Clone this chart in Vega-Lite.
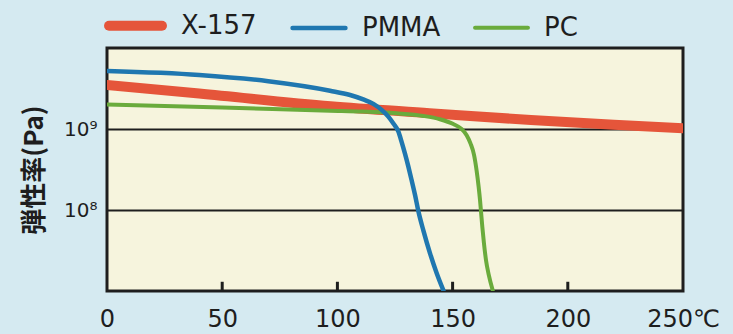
{
  "$schema": "https://vega.github.io/schema/vega-lite/v6.json",
  "width": 576,
  "height": 243,
  "autosize": "none",
  "padding": {"left": 107, "top": 48, "right": 50, "bottom": 43},
  "background": "#d5eaf1",
  "config": {
    "view": {"fill": "#f6f4dd", "stroke": "#1e1e1e", "strokeWidth": 3},
    "axis": {"labelFont": "DejaVu Sans", "labelColor": "#1e1e1e"}
  },
  "datasets": {
    "xticks": [{"T": 50}, {"T": 100}, {"T": 150}, {"T": 200}],
    "curves": [
      {"series": "X-157", "T": 0, "E": 3.49e9},
      {"series": "X-157", "T": 40, "E": 2.75e9},
      {"series": "X-157", "T": 97, "E": 1.91e9},
      {"series": "X-157", "T": 140, "E": 1.57e9},
      {"series": "X-157", "T": 184, "E": 1.29e9},
      {"series": "X-157", "T": 220, "E": 1.13e9},
      {"series": "X-157", "T": 250, "E": 1.02e9},
      {"series": "PC", "T": 0, "E": 2.0e9},
      {"series": "PC", "T": 50, "E": 1.84e9},
      {"series": "PC", "T": 96.8, "E": 1.68e9},
      {"series": "PC", "T": 111.2, "E": 1.64e9},
      {"series": "PC", "T": 125.7, "E": 1.56e9},
      {"series": "PC", "T": 137.3, "E": 1.45e9},
      {"series": "PC", "T": 144.5, "E": 1.32e9},
      {"series": "PC", "T": 150.3, "E": 1.15e9},
      {"series": "PC", "T": 153.9, "E": 1.0e9},
      {"series": "PC", "T": 156.1, "E": 8.4e8},
      {"series": "PC", "T": 157.8, "E": 6.6e8},
      {"series": "PC", "T": 159.3, "E": 4.8e8},
      {"series": "PC", "T": 160.4, "E": 3.1e8},
      {"series": "PC", "T": 161.3, "E": 1.94e8},
      {"series": "PC", "T": 161.9, "E": 1.33e8},
      {"series": "PC", "T": 162.3, "E": 9.8e7},
      {"series": "PC", "T": 162.9, "E": 6.2e7},
      {"series": "PC", "T": 163.6, "E": 3.9e7},
      {"series": "PC", "T": 164.5, "E": 2.4e7},
      {"series": "PC", "T": 165.7, "E": 1.58e7},
      {"series": "PC", "T": 167.4, "E": 1.02e7},
      {"series": "PMMA", "T": 0, "E": 5.2e9},
      {"series": "PMMA", "T": 40, "E": 4.65e9},
      {"series": "PMMA", "T": 70, "E": 3.89e9},
      {"series": "PMMA", "T": 96.8, "E": 2.97e9},
      {"series": "PMMA", "T": 105.5, "E": 2.63e9},
      {"series": "PMMA", "T": 111.2, "E": 2.32e9},
      {"series": "PMMA", "T": 115.6, "E": 2.04e9},
      {"series": "PMMA", "T": 119.2, "E": 1.72e9},
      {"series": "PMMA", "T": 122.1, "E": 1.42e9},
      {"series": "PMMA", "T": 124.3, "E": 1.17e9},
      {"series": "PMMA", "T": 126.4, "E": 9.4e8},
      {"series": "PMMA", "T": 127.9, "E": 6.9e8},
      {"series": "PMMA", "T": 129.3, "E": 5.0e8},
      {"series": "PMMA", "T": 130.8, "E": 3.43e8},
      {"series": "PMMA", "T": 132.2, "E": 2.34e8},
      {"series": "PMMA", "T": 133.7, "E": 1.53e8},
      {"series": "PMMA", "T": 135.1, "E": 9.8e7},
      {"series": "PMMA", "T": 137.3, "E": 5.6e7},
      {"series": "PMMA", "T": 140.2, "E": 2.92e7},
      {"series": "PMMA", "T": 143.1, "E": 1.66e7},
      {"series": "PMMA", "T": 146, "E": 1.02e7}
    ]
  },
  "layer": [
    {
      "data": {"name": "curves"},
      "mark": {"type": "line", "interpolate": "monotone", "clip": true, "strokeCap": "round"},
      "encoding": {
        "x": {
          "field": "T", "type": "quantitative",
          "scale": {"domain": [0, 250], "nice": false},
          "axis": {
            "title": null, "values": [0, 50, 100, 150, 200, 250],
            "labelExpr": "datum.value == 250 ? '250℃' : datum.label",
            "labelFontSize": 24, "domain": false, "ticks": false,
            "labelPadding": 16, "grid": false, "labelFlush": false
          }
        },
        "y": {
          "field": "E", "type": "quantitative",
          "scale": {"type": "log", "domain": [1e7, 1e10], "nice": false},
          "axis": {
            "title": "弾性率(Pa)", "titleFont": "Noto Sans CJK JP", "titleFontSize": 26,
            "titleFontWeight": "bold", "titleColor": "#1e1e1e", "titlePadding": 16,
            "values": [1e8, 1e9], "domain": false,
            "labelExpr": "datum.value == 1e9 ? '10⁹' : '10⁸'",
            "labelFontSize": 20, "ticks": false, "labelPadding": 10,
            "grid": true, "gridColor": "#1e1e1e", "gridWidth": 2, "gridOpacity": 1
          }
        },
        "color": {
          "field": "series", "type": "nominal",
          "scale": {"domain": ["X-157", "PMMA", "PC"], "range": ["#e5553a", "#1f77b0", "#6aab3c"]},
          "legend": {
            "title": null, "orient": "none", "legendX": -3, "legendY": -54,
            "direction": "horizontal", "symbolType": "stroke", "symbolSize": 2800,
            "labelFontSize": 26, "labelFont": "DejaVu Sans", "labelColor": "#1e1e1e",
            "labelOffset": 14, "columnPadding": 26,
            "encode": {"symbols": {"update": {"strokeCap": {"value": "round"}}}}
          }
        },
        "strokeWidth": {
          "field": "series", "type": "nominal",
          "scale": {"type": "ordinal", "domain": ["X-157", "PMMA", "PC"], "range": [10, 4.5, 4]},
          "legend": {
            "title": null, "orient": "none", "legendX": -3, "legendY": -54,
            "direction": "horizontal", "symbolType": "stroke", "symbolSize": 2800,
            "labelFontSize": 26, "labelFont": "DejaVu Sans", "labelColor": "#1e1e1e",
            "labelOffset": 14, "columnPadding": 26,
            "encode": {"symbols": {"update": {"strokeCap": {"value": "round"}}}}
          }
        }
      }
    },
    {
      "data": {"name": "xticks"},
      "mark": {"type": "rule", "color": "#1e1e1e", "strokeWidth": 3},
      "encoding": {
        "x": {"field": "T", "type": "quantitative"},
        "y": {"datum": 1e7},
        "y2": {"datum": 1.3e7}
      }
    }
  ]
}
